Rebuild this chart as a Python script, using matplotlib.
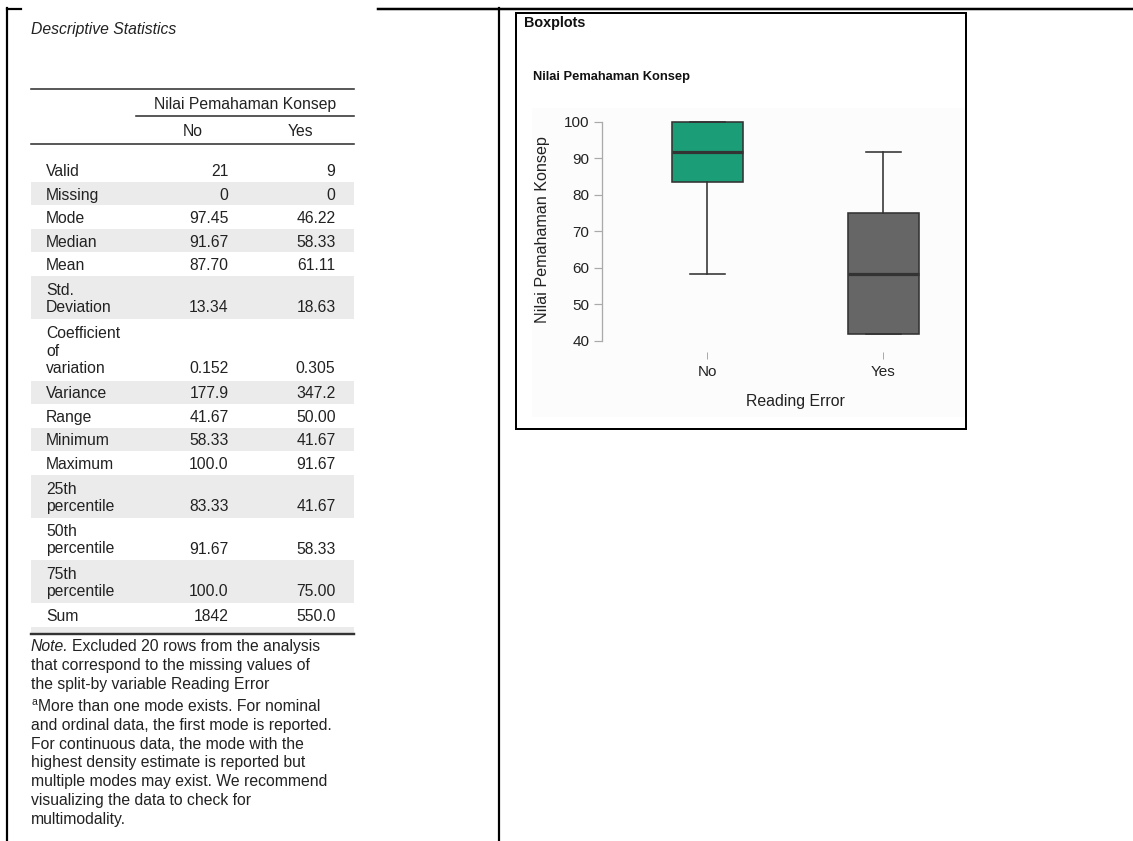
import matplotlib
matplotlib.use("Agg")
import matplotlib.pyplot as plt
from matplotlib.patches import Rectangle

plt.rcParams['font.family'] = ['Liberation Sans', 'DejaVu Sans']

# table data (JASP descriptive statistics)
stat_labels = [["Valid"], ["Missing"], ["Mode"], ["Median"], ["Mean"],
               ["Std.", "Deviation"], ["Coefficient", "of", "variation"],
               ["Variance"], ["Range"], ["Minimum"], ["Maximum"],
               ["25th", "percentile"], ["50th", "percentile"],
               ["75th", "percentile"], ["Sum"]]
no_values = ["21", "0", "97.45", "91.67", "87.70", "13.34", "0.152", "177.9",
             "41.67", "58.33", "100.0", "83.33", "91.67", "100.0", "1842"]
yes_values = ["9", "0", "46.22", "58.33", "61.11", "18.63", "0.305", "347.2",
              "50.00", "41.67", "91.67", "41.67", "58.33", "75.00", "550.0"]

note_lines = ["Excluded 20 rows from the analysis",
              "that correspond to the missing values of",
              "the split-by variable Reading Error"]
foot_lines = ["More than one mode exists. For nominal",
              "and ordinal data, the first mode is reported.",
              "For continuous data, the mode with the",
              "highest density estimate is reported but",
              "multiple modes may exist. We recommend",
              "visualizing the data to check for",
              "multimodality."]

# boxplot data
groups = ["No", "Yes"]
q1 = [83.33, 41.67]
medians = [91.67, 58.33]
q3 = [100.0, 75.00]
whisker_low = [58.33, 41.67]
whisker_high = [100.0, 91.67]
box_colors = ["#1b9e77", "#666666"]

W, H = 1133, 841
PT = 0.72  # pixels -> points at 100 dpi
txt = "#222222"
fs = 11.3

fig = plt.figure(figsize=(W / 100, H / 100), dpi=100)
bg = fig.add_axes([0, 0, 1, 1])
bg.set_xlim(0, W)
bg.set_ylim(H, 0)
bg.axis("off")

# page frame lines
bg.plot([7, 7], [8, H], color="black", lw=2.2 * PT)
bg.plot([499, 499], [8, H], color="black", lw=2.2 * PT)
bg.plot([7, 21], [9, 9], color="black", lw=2.2 * PT)
bg.plot([378, W], [9, 9], color="black", lw=2.5 * PT)

# ---- table ----
bg.text(31, 29.5, "Descriptive Statistics", style="italic", fontsize=fs,
        color=txt, va="center")
rule = dict(color="#333333", lw=1.6 * PT)
bg.plot([31, 354], [89, 89], **rule)
bg.text(245, 104.5, "Nilai Pemahaman Konsep", ha="center", va="center",
        fontsize=fs, color=txt)
bg.plot([136, 354], [116, 116], **rule)
bg.text(193, 131, "No", ha="center", va="center", fontsize=fs, color=txt)
bg.text(300, 131, "Yes", ha="center", va="center", fontsize=fs, color=txt)
bg.plot([31, 354], [143.5, 143.5], **rule)

row_h, extra, line_gap = 23.5, 19.3, 17.2
y = 158.3
for i, lines in enumerate(stat_labels):
    n = len(lines)
    h = row_h + extra * (n - 1)
    if i % 2 == 1:
        bg.add_patch(Rectangle((31, y), 323, h, color="#ebebeb", lw=0))
    center = y + h / 2 + 1.5
    for k, word in enumerate(lines):
        ly = center + (k - (n - 1) / 2) * line_gap
        bg.text(46, ly, word, va="center", fontsize=fs, color=txt)
    last = center + (n - 1) / 2 * line_gap
    bg.text(228.5, last, no_values[i], ha="right", va="center", fontsize=fs, color=txt)
    bg.text(335.5, last, yes_values[i], ha="right", va="center", fontsize=fs, color=txt)
    y += h
bg.add_patch(Rectangle((31, y), 323, 633 - y, color="#ebebeb", lw=0))
bg.plot([31, 354], [634, 634], color="#333333", lw=2.4 * PT)

# notes
t = bg.text(31, 646.5, "Note.", style="italic", va="center", fontsize=fs, color=txt)
fig.canvas.draw()
x_after = t.get_window_extent().x1
bg.text(x_after + 3, 646.5, note_lines[0], va="center", fontsize=fs, color=txt)
for k, line in enumerate(note_lines[1:]):
    bg.text(31, 665.3 + 18.7 * k, line, va="center", fontsize=fs, color=txt)
bg.text(31, 702, "a", fontsize=7.5, va="center", color=txt)
for k, line in enumerate(foot_lines):
    x0 = 38 if k == 0 else 31
    bg.text(x0, 706.5 + 18.8 * k, line, va="center", fontsize=fs, color=txt)

# ---- boxplot panel ----
bg.add_patch(Rectangle((532, 108), 433, 309, color="#fcfcfc", lw=0))
bg.add_patch(Rectangle((515.5, 12.5), 450, 416, fill=False, ec="black",
                       lw=2.0 * PT))
bg.text(524, 23, "Boxplots", fontweight="bold", fontsize=10.4, va="center",
        color="#111111")
bg.text(533, 76.5, "Nilai Pemahaman Konsep", fontweight="bold", fontsize=9.3,
        va="center", color="#111111")

ax_l, ax_r = 601.7, 953.7
ax_t, ax_b = 121.7, 340.5
ax = fig.add_axes([ax_l / W, 1 - ax_b / H, (ax_r - ax_l) / W, (ax_b - ax_t) / H])
ax.set_facecolor("none")

stats = []
for g, a, m, b, lo, hi in zip(groups, q1, medians, q3, whisker_low, whisker_high):
    stats.append(dict(label=g, q1=a, med=m, q3=b, whislo=lo, whishi=hi, fliers=[]))
edge = "#333333"
bp = ax.bxp(stats, positions=[0, 1], widths=0.4, capwidths=0.2,
            patch_artist=True, showfliers=False,
            boxprops=dict(edgecolor=edge, linewidth=1.6 * PT),
            medianprops=dict(color=edge, linewidth=3.2 * PT),
            whiskerprops=dict(color=edge, linewidth=1.6 * PT),
            capprops=dict(color=edge, linewidth=1.6 * PT))
for patch, c in zip(bp["boxes"], box_colors):
    patch.set_facecolor(c)
for artist in bp["boxes"] + bp["medians"] + bp["whiskers"] + bp["caps"]:
    artist.set_clip_on(False)

ax.set_xlim(-0.6, 1.4)
ax.set_ylim(40, 100)
ax.set_yticks(range(40, 101, 10))
ax.set_xticks([0, 1])
ax.set_xticklabels(groups)
for s in ["top", "right"]:
    ax.spines[s].set_visible(False)
ax.spines["bottom"].set_position(("outward", 11 * PT))
ax.spines["bottom"].set_visible(False)
ax.spines["left"].set_color("#aaaaaa")
ax.spines["left"].set_linewidth(1.3 * PT)
ax.tick_params(axis="y", length=8 * PT, width=1.2 * PT, color="#aaaaaa",
               labelsize=11, labelcolor=txt, pad=4.5 * PT)
ax.tick_params(axis="x", length=7 * PT, width=1.0 * PT, color="#aaaaaa",
               labelsize=11, labelcolor=txt, pad=6.5 * PT)
ax.set_xlabel("Reading Error", fontsize=11.4, color=txt, va="center")
ax.xaxis.set_label_coords(0.55, (ax_b - 401.7) / (ax_b - ax_t))
ax.set_ylabel("Nilai Pemahaman Konsep", fontsize=11.6, color=txt, va="center")
ax.yaxis.set_label_coords((543 - ax_l) / (ax_r - ax_l), (ax_b - 230) / (ax_b - ax_t))

fig.savefig("out.png", dpi=100)
